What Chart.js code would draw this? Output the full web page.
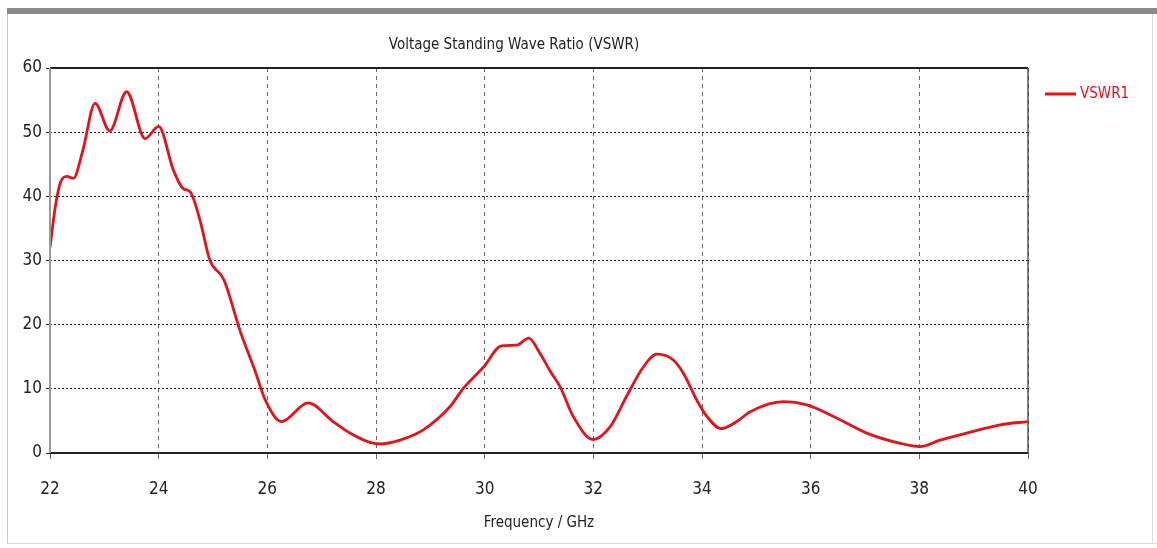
<!DOCTYPE html>
<html>
<head>
<meta charset="utf-8">
<script src="https://cdn.jsdelivr.net/npm/chart.js@4.4.1/dist/chart.umd.min.js"></script>
<style>
  html, body { margin: 0; padding: 0; background: #fff; }
  #wrap { position: absolute; left: 0; top: 0; width: 1157px; height: 548px; }
</style>
</head>
<body>
<div id="wrap"><canvas id="vswrChart"></canvas></div>
<script>
// frequency points (GHz)
const freq = [22.0, 22.1, 22.2, 22.31, 22.43, 22.6, 22.83, 23.1, 23.41, 23.75,
  24.0, 24.27, 24.45, 24.58, 24.76, 24.94, 25.2, 25.5, 25.77, 25.96,
  26.26, 26.75, 27.21, 27.52, 28.07, 28.44, 28.87, 29.36, 29.61, 29.98,
  30.31, 30.59, 30.81, 31.02, 31.21, 31.39, 31.63, 32.0, 32.31, 32.61,
  32.92, 33.17, 33.47, 33.66, 33.9, 34.09, 34.35, 34.64, 34.88, 35.5,
  35.93, 36.42, 37.03, 37.65, 38.01, 38.38, 38.87, 39.49, 40.0];

// VSWR1 values
const vswr = [32.0, 38.5, 42.3, 43.1, 42.8, 47.0, 54.5, 50.2, 56.3, 49.0,
  50.9, 44.1, 41.2, 40.7, 36.3, 30.1, 27.0, 19.0, 12.9, 8.3,
  4.9, 7.8, 4.9, 3.1, 1.4, 2.0, 3.6, 7.2, 10.1, 13.4,
  16.7, 16.8, 17.9, 15.5, 12.7, 10.3, 5.7, 2.1, 4.1, 8.8,
  13.4, 15.4, 14.5, 12.4, 8.3, 5.7, 3.8, 4.9, 6.4, 8.0,
  7.5, 5.7, 3.1, 1.5, 1.0, 2.0, 3.1, 4.4, 4.9];

const xTicks = [22, 24, 26, 28, 30, 32, 34, 36, 38, 40];
const yTicks = [0, 10, 20, 30, 40, 50, 60];
const seriesName = 'VSWR1';

const FONT = "'Liberation Sans Narrow', 'DejaVu Sans Condensed', 'Liberation Sans', sans-serif";
const RED = '#e3131c';

// panel frame, plot border and the legend entry
const framePlugin = {
  id: 'frame',
  beforeDraw(chart) {
    const ctx = chart.ctx;
    ctx.save();
    ctx.fillStyle = '#fff';
    ctx.fillRect(0, 0, chart.width, chart.height);
    ctx.fillStyle = '#8a8a8a';
    ctx.fillRect(7, 8, chart.width - 7, 6);
    ctx.fillStyle = '#c8c8c8';
    ctx.fillRect(7, 14, 1, 529);
    ctx.fillStyle = '#dcdcdc';
    ctx.fillRect(7, 543, chart.width - 7, 1);
    ctx.fillRect(1152, 14, 1, 529);
    ctx.restore();
  },
  afterDatasetsDraw(chart) {
    const { ctx, chartArea: a } = chart;
    ctx.save();
    ctx.lineWidth = 2;
    ctx.strokeStyle = '#222';
    ctx.beginPath();
    ctx.moveTo(a.left, a.top); ctx.lineTo(a.right, a.top);
    ctx.moveTo(a.left, a.bottom); ctx.lineTo(a.right, a.bottom);
    ctx.stroke();
    ctx.strokeStyle = '#555';
    ctx.lineWidth = 1.5;
    ctx.beginPath();
    ctx.moveTo(a.right, a.top); ctx.lineTo(a.right, a.bottom);
    ctx.stroke();
    ctx.strokeStyle = '#999';
    ctx.lineWidth = 2;
    ctx.beginPath();
    ctx.moveTo(a.left, a.top); ctx.lineTo(a.left, a.bottom);
    ctx.stroke();

    // legend
    ctx.strokeStyle = RED;
    ctx.lineWidth = 3;
    ctx.beginPath();
    ctx.moveTo(1045, 94); ctx.lineTo(1076, 94);
    ctx.stroke();
    ctx.fillStyle = RED;
    ctx.font = '15px ' + FONT;
    ctx.textBaseline = 'middle';
    ctx.fillText(seriesName, 1080, 94);
    ctx.restore();
  }
};

const points = freq.map((f, i) => ({ x: f, y: vswr[i] }));

new Chart(document.getElementById('vswrChart'), {
  type: 'line',
  data: {
    datasets: [{
      label: seriesName,
      data: points,
      borderColor: RED,
      borderWidth: 2.8,
      pointRadius: 0,
      cubicInterpolationMode: 'monotone',
      fill: false
    }]
  },
  options: {
    responsive: true,
    maintainAspectRatio: false,
    animation: false,
    layout: { padding: { left: 0, right: 129, top: 0, bottom: 0 } },
    plugins: {
      legend: { display: false },
      tooltip: { enabled: false },
      title: {
        display: true,
        text: 'Voltage Standing Wave Ratio (VSWR)',
        color: '#222',
        font: { family: FONT, size: 15, weight: 'normal', lineHeight: 1.2 },
        padding: { top: 36, bottom: 14 }
      }
    },
    scales: {
      x: {
        type: 'linear',
        min: 22,
        max: 40,
        afterBuildTicks: s => { s.ticks = xTicks.map(v => ({ value: v })); },
        afterFit: s => { s.height = 95; },
        grid: { color: '#666', lineWidth: 1, tickLength: 6, drawOnChartArea: true },
        border: { display: false, dash: [4, 4] },
        ticks: { color: '#222', padding: 20, font: { family: FONT, size: 17 } },
        title: {
          display: true,
          text: 'Frequency / GHz',
          color: '#222',
          font: { family: FONT, size: 15 },
          padding: { top: 6, bottom: 16 }
        }
      },
      y: {
        min: 0,
        max: 60,
        afterBuildTicks: s => { s.ticks = yTicks.map(v => ({ value: v })); },
        afterFit: s => { s.width = 50; },
        grid: { color: '#222', lineWidth: 1, tickLength: 4 },
        border: { display: false, dash: [2, 2] },
        ticks: { color: '#222', padding: 4, font: { family: FONT, size: 17 } }
      }
    }
  },
  plugins: [framePlugin]
});
</script>
</body>
</html>
